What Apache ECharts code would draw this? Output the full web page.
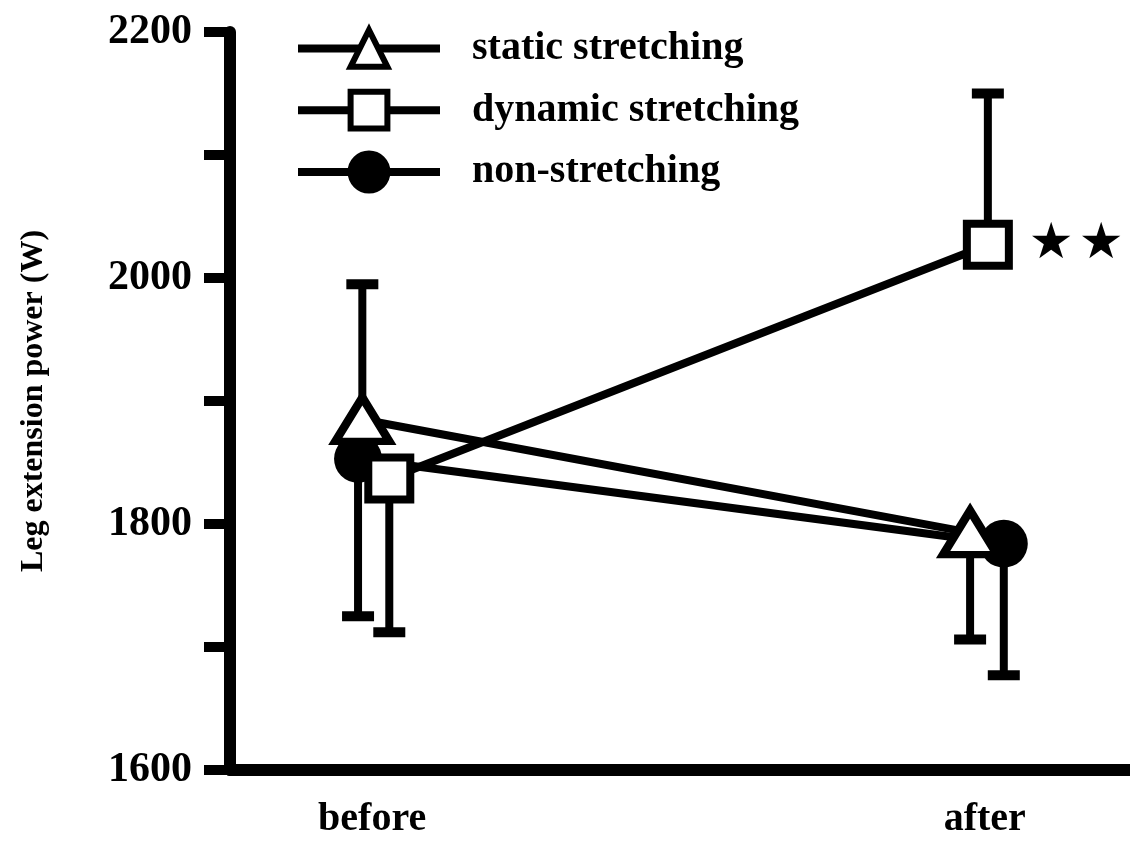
<!doctype html>
<html>
<head>
<meta charset="utf-8">
<title>Leg extension power</title>
<style>
  html, body { margin: 0; padding: 0; background: #fff; }
  #main { width: 1130px; height: 841px; }
</style>
</head>
<body>
<div id="main"></div>
<script src="https://cdn.jsdelivr.net/npm/echarts@6/dist/echarts.min.js"></script>
<script>
// phases on the x axis
var phases = ['before', 'after'];
var yTicks = [1600, 1800, 2000, 2200];

// means (W)
var staticMean = [1885, 1793];
var dynamicMean = [1837, 2027];
var nonMean = [1853, 1784];

// where each one-sided error bar ends (W)
var staticErrEnd = [1995, 1706];
var dynamicErrEnd = [1712, 2150];
var nonErrEnd = [1725, 1677];

// horizontal nudge of each group around its phase, so markers don't sit on top of each other
var nudge = {
    'static stretching': [-0.016, -0.024],
    'dynamic stretching': [0.028, 0.005],
    'non-stretching': [-0.023, 0.031]
};

var serif = 'Liberation Serif';
var chart = echarts.init(document.getElementById('main'));

function points(name, means) {
    return means.map(function (v, i) {
        return [i + nudge[name][i], v];
    });
}
function bars(name, means, ends) {
    return means.map(function (v, i) {
        return [i + nudge[name][i], v, ends[i]];
    });
}

var errData = []
    .concat(bars('static stretching', staticMean, staticErrEnd))
    .concat(bars('dynamic stretching', dynamicMean, dynamicErrEnd))
    .concat(bars('non-stretching', nonMean, nonErrEnd));

var dynData = points('dynamic stretching', dynamicMean);
// significance mark next to the "after" square
dynData[1] = {
    value: dynData[1],
    label: {
        show: true, position: 'right', distance: 16,
        formatter: '\u2605\u200a\u2605',
        fontSize: 50, fontFamily: 'DejaVu Sans', color: '#000'
    }
};

var option = {
    backgroundColor: '#fff',
    animation: false,
    grid: { left: 230, right: 0, top: 32, bottom: 71 },
    legend: {
        orient: 'vertical',
        left: 294, top: 27, padding: 0,
        itemWidth: 142, itemHeight: 46, itemGap: 19,
        data: ['static stretching', 'dynamic stretching', 'non-stretching'],
        itemStyle: { borderWidth: 6 },
        lineStyle: { color: '#000', width: 8 },
        textStyle: {
            fontFamily: serif, fontWeight: 'bold', fontSize: 40, color: '#000',
            padding: [0, 0, 0, 27]
        }
    },
    xAxis: {
        type: 'value',
        min: -0.232, max: 1.237,
        splitLine: { show: false },
        axisLine: { onZero: false, lineStyle: { color: '#000', width: 12 } },
        axisTick: { show: false },
        axisLabel: {
            customValues: [0, 1],
            formatter: function (v) { return phases[Math.round(v)]; },
            margin: 30,
            fontFamily: serif, fontWeight: 'bold', fontSize: 40, color: '#000'
        }
    },
    yAxis: {
        type: 'value',
        min: 1600, max: 2200, interval: 100,
        name: 'Leg extension power (W)',
        nameLocation: 'middle', nameRotate: 90, nameGap: 180,
        nameTextStyle: { fontFamily: serif, fontWeight: 'bold', fontSize: 32, color: '#000' },
        splitLine: { show: false },
        axisLine: { show: true, onZero: false, lineStyle: { color: '#000', width: 12 } },
        axisTick: { show: true, inside: false, length: 26, lineStyle: { color: '#000', width: 10 } },
        axisLabel: {
            interval: 1,
            formatter: function (v) { return yTicks.indexOf(v) >= 0 ? String(v) : ''; },
            margin: 38,
            fontFamily: serif, fontWeight: 'bold', fontSize: 42, color: '#000'
        }
    },
    series: [
        {
            type: 'custom',
            name: 'error bars',
            z: 1,
            silent: true,
            renderItem: function (params, api) {
                var x = api.value(0);
                var p0 = api.coord([x, api.value(1)]);
                var p1 = api.coord([x, api.value(2)]);
                return {
                    type: 'group',
                    children: [
                        { type: 'line', shape: { x1: p0[0], y1: p0[1], x2: p1[0], y2: p1[1] },
                          style: { stroke: '#000', lineWidth: 8 } },
                        { type: 'line', shape: { x1: p1[0] - 16, y1: p1[1], x2: p1[0] + 16, y2: p1[1] },
                          style: { stroke: '#000', lineWidth: 10 } }
                    ]
                };
            },
            encode: { x: 0, y: [1, 2] },
            data: errData
        },
        {
            type: 'line',
            name: 'non-stretching',
            z: 2,
            symbol: 'circle', symbolSize: 48,
            itemStyle: { color: '#000', borderColor: '#000', borderWidth: 0 },
            lineStyle: { color: '#000', width: 8 },
            data: points('non-stretching', nonMean)
        },
        {
            type: 'line',
            name: 'static stretching',
            z: 3,
            symbol: 'triangle', symbolSize: [54, 44],
            itemStyle: { color: '#fff', borderColor: '#000', borderWidth: 8 },
            lineStyle: { color: '#000', width: 8 },
            data: points('static stretching', staticMean)
        },
        {
            type: 'line',
            name: 'dynamic stretching',
            z: 4,
            symbol: 'rect', symbolSize: 42,
            itemStyle: { color: '#fff', borderColor: '#000', borderWidth: 8 },
            lineStyle: { color: '#000', width: 8 },
            data: dynData
        }
    ]
};

chart.setOption(option);
window.addEventListener('resize', function () { chart.resize(); });
</script>
</body>
</html>
